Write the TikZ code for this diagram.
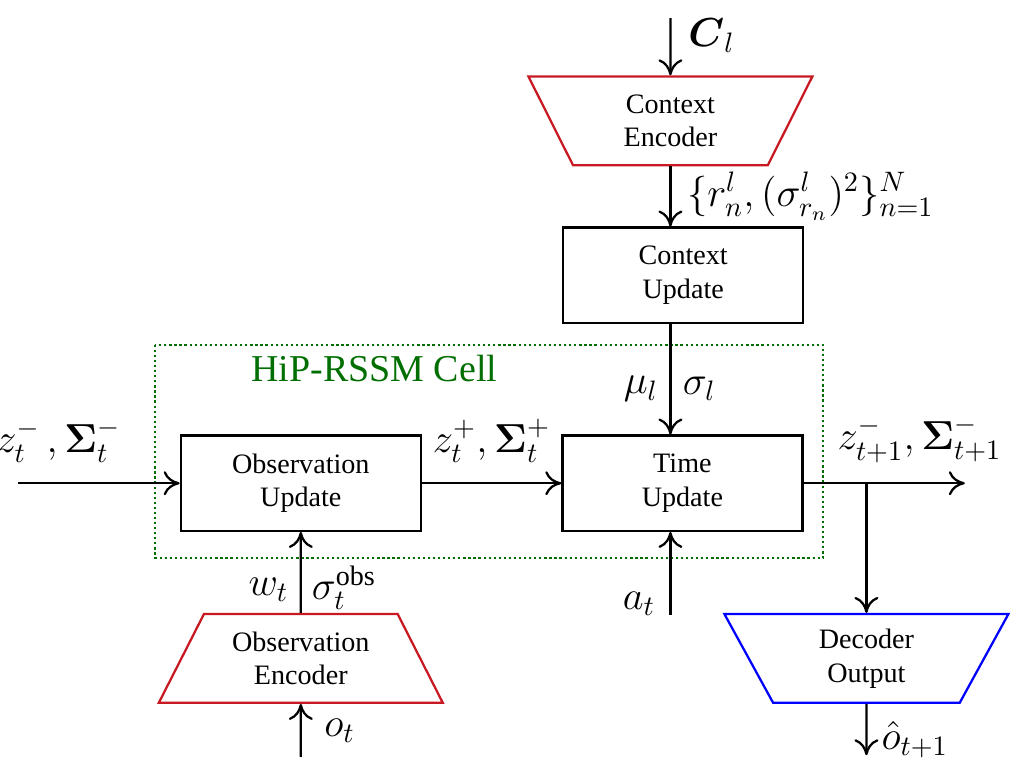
\documentclass[tikz,border=0pt]{standalone}
\usepackage{amsmath}
\usepackage{fontspec}
\setmainfont{Liberation Serif}
\usetikzlibrary{shapes.geometric,arrows.meta,positioning}
\definecolor{encred}{RGB}{200,25,35}
\definecolor{decblue}{RGB}{0,0,255}
\definecolor{cellgreen}{RGB}{0,110,0}
\tikzset{
  block/.style  ={rectangle,draw,thick,minimum width=3.0cm,
                  minimum height=1.19cm,align=center},
  trap/.style   ={trapezium,thick,trapezium stretches body,minimum width=3.55cm,
                  minimum height=1.11cm,align=center},
  widebase/.style={trap,trapezium left angle=58,trapezium right angle=58},
  widetop/.style ={trap,trapezium left angle=122,trapezium right angle=122},
  arr/.style    ={-{To[length=2mm,width=3mm]},thick}
}

\begin{document}
\begin{tikzpicture}[
  cell/.style={draw=cellgreen, densely dotted, thick},
  celltitle/.style={text=cellgreen, font=\fontsize{13.5}{16}\selectfont},
  lbl/.style={font=\Large, inner sep=2pt}
]
  \useasboundingbox (0,0) rectangle (12.8,-9.6);

  % Cell boundary
  \draw[cell] (1.94,-4.31) rectangle (10.29,-6.975);
  \node (celllbl) at (4.68,-4.6) [celltitle] {HiP-RSSM Cell};

  % Context branch
  \node (cenc) at (8.38,-1.51)  [widetop, draw=encred] {Context\\Encoder};
  \node (cupd) at (8.54,-3.44)  [block] {Context\\Update};

  % Filter blocks
  \node (oupd) at (3.76,-6.04)  [block] {Observation\\Update};
  \node (tupd) at (8.53,-6.04)  [block] {Time\\Update};

  % Encoder / decoder
  \node (oenc) at (3.76,-8.23)  [widebase, draw=encred] {Observation\\Encoder};
  \node (dec)  at (10.83,-8.23) [widetop, draw=decblue] {Decoder\\Output};

  % Free ends
  \coordinate (cin)   at (8.38,-0.225);
  \coordinate (zin)   at (0.225,-6.04);
  \coordinate (zout)  at (12.06,-6.04);
  \coordinate (ain)   at (8.38,-7.69);
  \coordinate (oin)   at (3.76,-9.46);
  \coordinate (oout)  at (10.83,-9.44);
  \coordinate (split) at (dec.north |- tupd.east);

  % Connections
  \draw[arr] (cin) -- (cenc.north)
    node (cl) [lbl, pos=0.3, right, xshift=4pt] {$\boldsymbol{C}_l$};
  \draw[arr] (cenc.south) -- (cenc.south |- cupd.north)
    node (rn) [lbl, midway, right, xshift=3.5pt] {$\{r_n^l,(\sigma_{r_n}^l)^2\}_{n=1}^N$};
  \draw[arr] (cenc.south |- cupd.south) -- (cenc.south |- tupd.north)
    node (mul) [lbl, pos=0.59, left, xshift=-2pt] {$\mu_l$}
    node (sgl) [lbl, pos=0.59, right, xshift=2pt] {$\sigma_l$};
  \draw[arr] (zin) -- (oupd.west)
    node (zm) [lbl, pos=0.25, above=5pt] {$z_t^{-}\,,\boldsymbol{\Sigma}_t^{-}$};
  \draw[arr] (oupd.east) -- (tupd.west)
    node (zp) [lbl, midway, above=5pt] {$z_t^{+},\boldsymbol{\Sigma}_t^{+}$};
  \draw[arr] (tupd.east) -- (zout)
    node (zn) [lbl, pos=0.72, above=5pt] {$z_{t+1}^{-},\boldsymbol{\Sigma}_{t+1}^{-}$};
  \draw[arr] (split) -- (dec.north);
  \draw[arr] (dec.south) -- (oout)
    node (ohat) [lbl, pos=0.7, right, xshift=3pt] {$\hat{o}_{t+1}$};
  \draw[arr] (ain) -- (ain |- tupd.south)
    node (at) [lbl, pos=0.14, left, xshift=-3pt] {$a_t$};
  \draw[arr] (oenc.north) -- (oupd.south)
    node (wt) [lbl, pos=0.29, left, xshift=-2pt] {$w_t$}
    node (sobs) [lbl, pos=0.31, right, xshift=1.5pt] {$\sigma_t^{\mathrm{obs}}$};
  \draw[arr] (oin) -- (oenc.south)
    node (ot) [lbl, midway, right, xshift=6pt] {$o_t$};
\end{tikzpicture}
\end{document}
